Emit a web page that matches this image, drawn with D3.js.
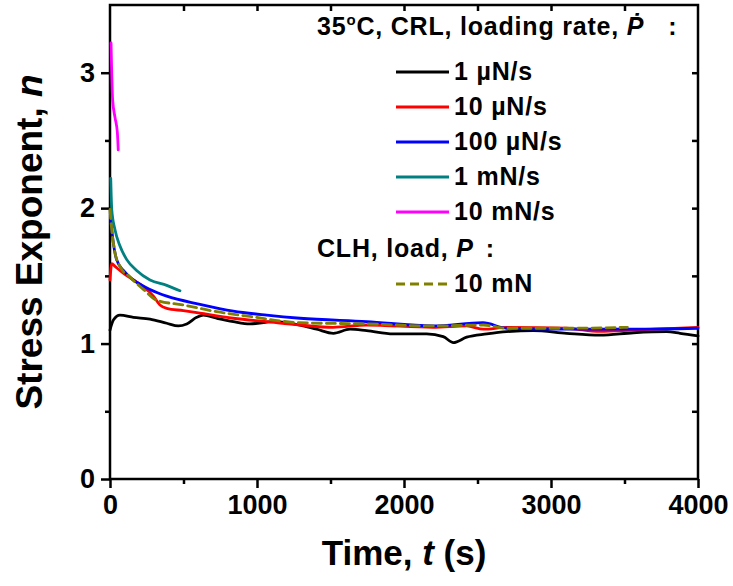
<!DOCTYPE html>
<html>
<head>
<meta charset="UTF-8">
<title>Stress exponent vs time</title>
<style>
body { margin: 0; background: #fff; }
svg text { font-family: "Liberation Sans", Arial, sans-serif; font-weight: bold; fill: #000; }
.axis path, .axis line { stroke: #000; stroke-width: 2.5px; }
.series { fill: none; stroke-width: 2.8px; stroke-linejoin: round; stroke-linecap: round; }
</style>
</head>
<body>
<svg id="chart"></svg>
<script src="https://d3js.org/d3.v7.min.js"></script>
<script>

// values: time t (s) and stress exponent n
var t1uN = [0, 23, 68, 159, 272, 386, 465, 522, 590, 635, 726, 839, 952, 1111, 1293, 1406, 1520, 1633, 1746, 1927, 2154, 2267, 2336, 2426, 2563, 2698, 2880, 3106, 3333, 3560, 3787, 3878, 4000];
var n1uN = [1.10, 1.174, 1.21, 1.194, 1.18, 1.15, 1.13, 1.145, 1.194, 1.21, 1.187, 1.162, 1.145, 1.162, 1.137, 1.106, 1.076, 1.106, 1.095, 1.071, 1.071, 1.051, 1.007, 1.047, 1.071, 1.088, 1.095, 1.076, 1.063, 1.08, 1.088, 1.076, 1.056];

var t10uN = [0, 12, 34, 90, 159, 227, 295, 340, 386, 499, 612, 839, 1066, 1293, 1517, 1746, 2197, 2426, 2540, 2698, 3106, 3333, 3558, 4000];
var n10uN = [1.47, 1.59, 1.57, 1.52, 1.47, 1.42, 1.35, 1.285, 1.26, 1.243, 1.224, 1.187, 1.162, 1.137, 1.12, 1.137, 1.12, 1.13, 1.106, 1.12, 1.113, 1.09, 1.10, 1.12];

var t100uN = [3, 23, 45, 91, 159, 272, 386, 612, 839, 1066, 1293, 1746, 2197, 2537, 2698, 3106, 3558, 4000];
var n100uN = [1.94, 1.74, 1.62, 1.54, 1.47, 1.40, 1.35, 1.29, 1.24, 1.21, 1.187, 1.162, 1.13, 1.154, 1.113, 1.106, 1.106, 1.113];

var t1mN = [5, 8, 12, 34, 68, 114, 181, 272, 386, 476];
var n1mN = [2.22, 2.10, 1.99, 1.84, 1.72, 1.62, 1.54, 1.47, 1.43, 1.39];

var t10mN = [7, 18, 34, 50, 56];
var n10mN = [3.22, 2.80, 2.67, 2.56, 2.43];

var tCLH = [0, 12, 34, 68, 136, 227, 318, 499, 726, 952, 1293, 1746, 2197, 2540, 2698, 3106, 3520];
var nCLH = [1.99, 1.84, 1.67, 1.57, 1.49, 1.40, 1.32, 1.285, 1.235, 1.20, 1.154, 1.145, 1.13, 1.137, 1.113, 1.113, 1.12];

var seriesT = [t1uN, t10uN, t100uN, t1mN, t10mN, tCLH];
var seriesN = [n1uN, n10uN, n100uN, n1mN, n10mN, nCLH];
var seriesColors = ["#000000", "#ff0000", "#0000ff", "#008080", "#ff00ff", "#808000"];
var seriesDash = [null, null, null, null, null, "9,5"];
var legendLabels = ["1 \u00b5N/s", "10 \u00b5N/s", "100 \u00b5N/s", "1 mN/s", "10 mN/s", "10 mN"];
var xTicks = [0, 1000, 2000, 3000, 4000];
var yTicks = [0, 1, 2, 3];

var W = 733, H = 586;
var margin = {top: 5, right: 35, bottom: 107, left: 110};
var width = W - margin.left - margin.right;
var height = H - margin.top - margin.bottom;

var svg = d3.select("#chart").attr("width", W).attr("height", H);
var g = svg.append("g").attr("transform", "translate(" + margin.left + "," + margin.top + ")");

var x = d3.scaleLinear().domain([0, 4000]).range([0, width]);
var y = d3.scaleLinear().domain([0, 3.5]).range([height, 0]);

// minor ticks first, then major ones with labels
function styleAxis(sel) {
  sel.attr("class", "axis");
  sel.select(".domain").remove();
}

g.append("g").attr("transform", "translate(0," + height + ")")
  .call(d3.axisBottom(x).tickValues(d3.range(500, 4000, 1000)).tickSize(5).tickFormat(""))
  .call(styleAxis);
g.append("g").attr("transform", "translate(0," + height + ")")
  .call(d3.axisBottom(x).tickValues(xTicks).tickSize(9).tickPadding(7).tickFormat(d3.format("d")))
  .call(styleAxis)
  .selectAll("text").style("font-size", "27px");

g.append("g")
  .call(d3.axisLeft(y).tickValues([0.5, 1.5, 2.5]).tickSize(5).tickFormat(""))
  .call(styleAxis);
g.append("g")
  .call(d3.axisLeft(y).tickValues(yTicks).tickSize(9).tickPadding(6).tickFormat(d3.format("d")))
  .call(styleAxis)
  .selectAll("text").style("font-size", "27px");

// top and right frame, ticks pointing inward
g.append("g")
  .call(d3.axisBottom(x).tickValues(d3.range(500, 4000, 500)).tickSize(6).tickFormat(""))
  .call(styleAxis);
g.append("g").attr("transform", "translate(" + width + ",0)")
  .call(d3.axisLeft(y).tickValues(d3.range(0.5, 3.5, 0.5)).tickSize(6).tickFormat(""))
  .call(styleAxis);

g.append("rect")
  .attr("width", width).attr("height", height)
  .attr("fill", "none").attr("stroke", "#000").attr("stroke-width", 2.5);

var line = d3.line()
  .x(function (d) { return x(d[0]); })
  .y(function (d) { return y(d[1]); })
  .curve(d3.curveMonotoneX);

seriesT.forEach(function (ts, i) {
  var pts = ts.map(function (t, k) { return [t, seriesN[i][k]]; });
  g.append("path")
    .attr("class", "series")
    .attr("d", line(pts))
    .attr("stroke", seriesColors[i])
    .attr("stroke-dasharray", seriesDash[i])
    .attr("stroke-linecap", seriesDash[i] ? "butt" : "round");
});

// legend
var leg = svg.append("g").style("font-size", "25px").style("letter-spacing", "0.8px");
var title = leg.append("text").attr("x", 317).attr("y", 35);
title.append("tspan").text("35");
title.append("tspan").attr("dy", -10).style("font-size", "15px").text("o");
title.append("tspan").attr("dy", 10).text("C, CRL, loading rate, ");
title.append("tspan").style("font-style", "italic").text("\u1e56");
title.append("tspan").attr("dx", 24).text(":");

var rowY = [80, 115, 150, 185, 220, 292];
legendLabels.forEach(function (lab, i) {
  leg.append("line")
    .attr("x1", 396).attr("x2", 449)
    .attr("y1", rowY[i] - 8).attr("y2", rowY[i] - 8)
    .attr("stroke", seriesColors[i]).attr("stroke-width", 2.8)
    .attr("stroke-dasharray", seriesDash[i]);
  leg.append("text").attr("x", 454).attr("y", rowY[i]).text(lab);
});
var clh = leg.append("text").attr("x", 317).attr("y", 257);
clh.append("tspan").text("CLH, load, ");
clh.append("tspan").style("font-style", "italic").text("P");
clh.append("tspan").attr("dx", 12).text(":");

// axis titles
var xt = svg.append("text")
  .attr("x", margin.left + width / 2).attr("y", 565)
  .attr("text-anchor", "middle").style("font-size", "35px");
xt.append("tspan").text("Time, ");
xt.append("tspan").style("font-style", "italic").text("t");
xt.append("tspan").text(" (s)");

var yt = svg.append("text")
  .attr("transform", "translate(42," + (margin.top + height / 2) + ") rotate(-90)")
  .attr("text-anchor", "middle").style("font-size", "37px");
yt.append("tspan").text("Stress Exponent, ");
yt.append("tspan").style("font-style", "italic").text("n");

</script>
</body>
</html>
